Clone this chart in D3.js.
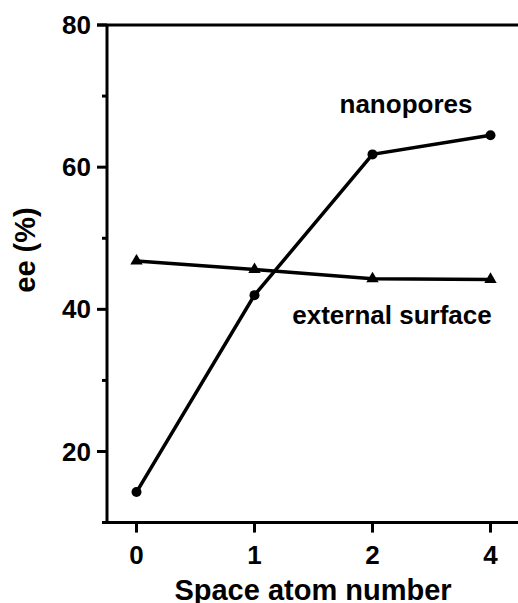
<!DOCTYPE html>
<html>
<head>
<meta charset="utf-8">
<script src="https://cdn.jsdelivr.net/npm/d3@7"></script>
<style>
  body { margin: 0; background: #fff; }
  svg { display: block; font-family: "Liberation Sans", Arial, sans-serif; font-weight: bold; }
</style>
</head>
<body>
<div id="chart"></div>
<script>
// spacer atom number (categorical) and ee values
const categories = ["0", "1", "2", "4"];
const nanopores = [14.3, 42.0, 61.8, 64.5];
const externalSurface = [46.8, 45.6, 44.3, 44.2];
const yMajorTicks = [20, 40, 60, 80];
const yMinorTicks = [30, 50, 70];

const W = 518, H = 603;
const svg = d3.select("#chart").append("svg").attr("width", W).attr("height", H);

const x = d3.scaleLinear().domain([-0.25, 3.25]).range([107, 520]);
const y = d3.scaleLinear().domain([10, 80]).range([522.6, 25]);

// axes frame
svg.append("line").attr("x1", 107).attr("x2", 107).attr("y1", y(80)).attr("y2", y(10))
    .attr("stroke", "#000").attr("stroke-width", 3);
svg.append("line").attr("x1", 102).attr("x2", W).attr("y1", y(10)).attr("y2", y(10))
    .attr("stroke", "#000").attr("stroke-width", 3);
svg.append("line").attr("x1", 97).attr("x2", W).attr("y1", y(80)).attr("y2", y(80))
    .attr("stroke", "#000").attr("stroke-width", 3);

// y ticks
const yg = svg.append("g");
yMajorTicks.forEach(t => {
    yg.append("line").attr("x1", 97).attr("x2", 107).attr("y1", y(t)).attr("y2", y(t))
        .attr("stroke", "#000").attr("stroke-width", 3);
    yg.append("text").attr("x", 91).attr("y", y(t) + 9).attr("text-anchor", "end")
        .attr("font-size", 26).text(t);
});
yMinorTicks.forEach(t => {
    yg.append("line").attr("x1", 102).attr("x2", 107).attr("y1", y(t)).attr("y2", y(t))
        .attr("stroke", "#000").attr("stroke-width", 3);
});

// x ticks
const xg = svg.append("g");
categories.forEach((c, i) => {
    xg.append("line").attr("x1", x(i)).attr("x2", x(i)).attr("y1", y(10)).attr("y2", y(10) + 10)
        .attr("stroke", "#000").attr("stroke-width", 3);
    xg.append("text").attr("x", x(i)).attr("y", 564).attr("text-anchor", "middle")
        .attr("font-size", 26).text(c);
});

// axis titles
svg.append("text").attr("x", 313).attr("y", 600).attr("text-anchor", "middle")
    .attr("font-size", 29).text("Space atom number");
svg.append("text").attr("transform", "translate(35,250) rotate(-90)").attr("text-anchor", "middle")
    .attr("font-size", 29).text("ee (%)");

const line = d3.line().x((d, i) => x(i)).y(d => y(d));

svg.append("path").datum(externalSurface).attr("d", line)
    .attr("fill", "none").attr("stroke", "#000").attr("stroke-width", 3.5);
svg.append("path").datum(nanopores).attr("d", line)
    .attr("fill", "none").attr("stroke", "#000").attr("stroke-width", 3.5);

svg.selectAll(".tri").data(externalSurface).enter().append("path")
    .attr("d", d3.symbol().type(d3.symbolTriangle).size(66))
    .attr("transform", (d, i) => `translate(${x(i)},${y(d)})`).attr("fill", "#000");
svg.selectAll(".dot").data(nanopores).enter().append("circle")
    .attr("cx", (d, i) => x(i)).attr("cy", d => y(d)).attr("r", 5).attr("fill", "#000");

// series labels
svg.append("text").attr("x", 406).attr("y", 113).attr("text-anchor", "middle")
    .attr("font-size", 26).text("nanopores");
svg.append("text").attr("x", 392).attr("y", 324).attr("text-anchor", "middle")
    .attr("font-size", 26).text("external surface");
</script>
</body>
</html>
